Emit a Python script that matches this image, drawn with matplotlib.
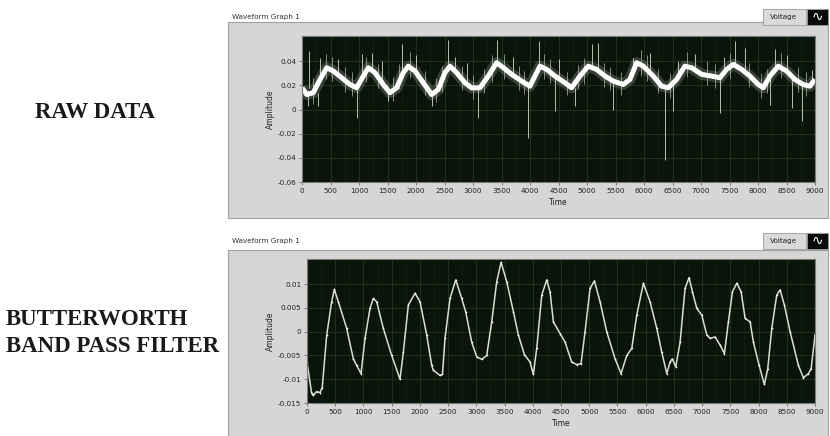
import numpy as np
from matplotlib import pyplot as plt
from matplotlib.patches import Rectangle

# raw signal: centre of the white band
raw_t = [0, 82, 198, 316, 433, 549, 696, 842, 959, 1075,
         1163, 1280, 1426, 1543, 1661, 1777, 1865, 1982, 2128, 2275,
         2391, 2508, 2596, 2713, 2859, 2976, 3122, 3268, 3415, 3532,
         3678, 3853, 3999, 4087, 4175, 4292, 4438, 4613, 4730, 4876,
         5022, 5168, 5315, 5461, 5636, 5753, 5871, 5987, 6162, 6309,
         6425, 6572, 6718, 6835, 7011, 7186, 7332, 7449, 7566, 7712,
         7858, 8004, 8092, 8209, 8355, 8501, 8647, 8793, 8910, 9000]
raw_v = [0.0181, 0.0125, 0.014, 0.025, 0.0347, 0.032, 0.0264, 0.0208, 0.0181, 0.0278,
         0.0347, 0.0306, 0.0208, 0.014, 0.0181, 0.0306, 0.036, 0.032, 0.0222, 0.0125,
         0.0167, 0.0306, 0.036, 0.0306, 0.0222, 0.018, 0.0181, 0.0278, 0.0389, 0.0347,
         0.0292, 0.0236, 0.0194, 0.0278, 0.036, 0.0333, 0.0278, 0.0222, 0.0181, 0.0278,
         0.036, 0.0333, 0.0278, 0.0236, 0.0208, 0.025, 0.0389, 0.036, 0.0278, 0.0194,
         0.0181, 0.025, 0.036, 0.0347, 0.0292, 0.0278, 0.0264, 0.0333, 0.0375, 0.0333,
         0.0278, 0.0208, 0.0181, 0.0278, 0.036, 0.032, 0.025, 0.0208, 0.0194, 0.025]

# long noise spikes in the raw signal (time, low end, high end)
spike_t = [123, 316, 640, 1046, 1222, 1400, 1760, 2000, 2555, 2683, 2888, 3426, 3700,
           4157, 4500, 5081, 5186, 5812, 6104, 6600, 6900, 7400, 7595, 7770, 8296, 8500, 8940,
           111, 286, 959, 1514, 2275, 3093, 3970, 4438, 4788, 5461, 6367, 6513, 7332,
           8209, 8589, 8765]
spike_lo = [0.018, 0.025, 0.028, 0.025, 0.033, 0.022, 0.030, 0.032, 0.034, 0.031, 0.022, 0.038, 0.030,
            0.035, 0.026, 0.035, 0.033, 0.030, 0.033, 0.025, 0.034, 0.030, 0.036, 0.033, 0.032, 0.032, 0.020,
            0.003, 0.003, -0.0069, 0.007, 0.003, -0.0069, -0.0236, -0.0014, 0.003, 0.0, -0.0417, -0.0014, -0.003,
            0.004, 0.0014, -0.0097]
spike_hi = [0.0486, 0.043, 0.042, 0.0458, 0.047, 0.040, 0.054, 0.045, 0.058, 0.044, 0.039, 0.058, 0.044,
            0.057, 0.042, 0.054, 0.0555, 0.043, 0.047, 0.040, 0.046, 0.044, 0.057, 0.051, 0.050, 0.045, 0.033,
            0.016, 0.014, 0.018, 0.015, 0.013, 0.018, 0.019, 0.027, 0.018, 0.023, 0.018, 0.023, 0.026,
            0.027, 0.025, 0.021]

# short fuzz around the band
fuzz_t = [200, 420, 520, 760, 880, 1130, 1330, 1600, 1700, 1900, 2150, 2350, 2450, 2800,
          3000, 3200, 3330, 3550, 3800, 3900, 4250, 4350, 4650, 4850, 4950, 5300, 5400, 5600,
          5950, 6050, 6250, 6450, 6750, 7100, 7250, 7500, 7850, 8050, 8150, 8400, 8700, 8850]
fuzz_lo = [0.005, 0.025, 0.024, 0.015, 0.011, 0.023, 0.018, 0.007, 0.017, 0.026, 0.012, 0.006,
           0.015, 0.016, 0.009, 0.014, 0.023, 0.025, 0.016, 0.013, 0.025, 0.022, 0.012, 0.017,
           0.021, 0.019, 0.016, 0.012, 0.028, 0.024, 0.014, 0.010, 0.027, 0.020, 0.018, 0.026,
           0.019, 0.010, 0.014, 0.026, 0.015, 0.011]
fuzz_hi = [0.026, 0.046, 0.044, 0.035, 0.031, 0.044, 0.038, 0.027, 0.038, 0.048, 0.032, 0.026,
           0.036, 0.036, 0.029, 0.034, 0.045, 0.046, 0.036, 0.032, 0.046, 0.042, 0.031, 0.037,
           0.043, 0.039, 0.035, 0.031, 0.049, 0.045, 0.034, 0.030, 0.048, 0.040, 0.038, 0.047,
           0.039, 0.030, 0.034, 0.047, 0.035, 0.031]

# band pass filtered signal
filt_t = [0, 83, 112, 170, 230, 270, 349, 437, 484, 555, 703, 821, 880, 957, 1028, 1116, 1175, 1235,
          1352, 1501, 1648, 1707, 1795, 1914, 2002, 2121, 2210, 2238, 2357, 2400, 2445, 2534, 2635,
          2741, 2811, 2918, 3007, 3096, 3184, 3273, 3361, 3438, 3539, 3657, 3745, 3851, 3952, 4010,
          4070, 4159, 4247, 4306, 4365, 4484, 4572, 4690, 4779, 4855, 4926, 5015, 5092, 5192, 5310,
          5458, 5564, 5665, 5754, 5842, 5960, 6078, 6197, 6285, 6374, 6432, 6473, 6533, 6610, 6698,
          6769, 6828, 6906, 6994, 7083, 7141, 7230, 7318, 7395, 7466, 7537, 7615, 7691, 7762, 7850,
          7909, 8010, 8103, 8163, 8234, 8322, 8381, 8458, 8559, 8706, 8795, 8884, 8932, 9000]
filt_v = [-0.0064, -0.0130, -0.0134, -0.0126, -0.0128, -0.0118, -0.0007, 0.0063, 0.0089, 0.0063,
          0.0007, -0.0057, -0.0071, -0.0088, -0.0014, 0.0049, 0.0070, 0.0063,
          0.0007, -0.0050, -0.0100, -0.0043, 0.0056, 0.0081, 0.0063, -0.0007, -0.0071, -0.0081,
          -0.0092, -0.0090, -0.0014, 0.0070, 0.0109,
          0.0070, 0.0042, -0.0022, -0.0053, -0.0058, -0.0050, 0.0021, 0.0105, 0.0146, 0.0105,
          0.0042, -0.0007, -0.0048, -0.0064, -0.0090,
          -0.0035, 0.0077, 0.0109, 0.0084, 0.0021, -0.0004, -0.0022, -0.0064, -0.0069, -0.0067,
          0.0000, 0.0091, 0.0107, 0.0063, 0.0000,
          -0.0057, -0.0088, -0.0050, -0.0035, 0.0035, 0.0102, 0.0063, 0.0007, -0.0043, -0.0088,
          -0.0064, -0.0057, -0.0074, -0.0022, 0.0091,
          0.0114, 0.0084, 0.0049, 0.0035, -0.0007, -0.0014, -0.0011, -0.0028, -0.0046, 0.0021,
          0.0084, 0.0102, 0.0084, 0.0028, 0.0021,
          -0.0022, -0.0071, -0.0111, -0.0078, 0.0007, 0.0077, 0.0088, 0.0056, 0.0000, -0.0071,
          -0.0097, -0.0088, -0.0078, -0.0007]

x_ticks = list(range(0, 9001, 500))
raw_yticks = [-0.06, -0.04, -0.02, 0, 0.02, 0.04]
raw_ylabels = ["-0.06", "-0.04", "-0.02", "0", "0.02", "0.04"]
filt_yticks = [-0.015, -0.01, -0.005, 0, 0.005, 0.01]
filt_ylabels = ["-0.015", "-0.01", "-0.005", "0", "0.005", "0.01"]

W, H = 830, 436
plt.rcParams['font.family'] = ['DejaVu Sans']
fig = plt.figure(figsize=(W / 100, H / 100), dpi=100)
fig.patch.set_facecolor("white")


def px(x0, y0, x1, y1):
    # pixel box (top-left origin) -> figure fraction rect
    return [x0 / W, 1 - y1 / H, (x1 - x0) / W, (y1 - y0) / H]


def box(x0, y0, x1, y1, face, edge, lw):
    r = px(x0, y0, x1, y1)
    fig.patches.append(Rectangle((r[0], r[1]), r[2], r[3], transform=fig.transFigure,
                                 facecolor=face, edgecolor=edge, lw=lw, zorder=-10))


def panel(top, bottom, title_y, legend_y0, legend_y1):
    box(228, top, 828, bottom, "#d6d6d6", "#a0a0a0", 0.8)
    fig.text(232 / W, 1 - title_y / H, "Waveform Graph 1", fontsize=5.2, color="#333333",
             ha="left", va="center")
    box(763, legend_y0, 806, legend_y1, "#dadada", "#9a9a9a", 0.6)
    fig.text(784 / W, 1 - (legend_y0 + legend_y1) / 2 / H, "Voltage", fontsize=5.2,
             color="#222222", ha="center", va="center")
    box(807, legend_y0, 828, legend_y1, "#0a0a0a", "#9a9a9a", 0.6)
    fig.text(817.5 / W, 1 - (legend_y0 + legend_y1) / 2 / H, "\u223f", fontsize=10,
             color="white", ha="center", va="center")


def style_axes(ax, yticks, ylabels, ylim):
    ax.set_facecolor("#0a140a")
    ax.set_xlim(0, 9000)
    ax.set_ylim(*ylim)
    ax.set_xticks(x_ticks)
    ax.set_xticklabels([str(t) for t in x_ticks])
    ax.set_yticks(yticks)
    ax.set_yticklabels(ylabels)
    ax.set_xticks(np.arange(250, 9000, 500), minor=True)
    ax.grid(True, which="major", color="#1b361b", lw=0.7)
    ax.grid(True, which="minor", color="#122412", lw=0.5)
    ax.tick_params(which="major", labelsize=5.2, length=2, width=0.5, color="#555555",
                   labelcolor="#222222", pad=2)
    ax.tick_params(which="minor", length=0)
    for s in ax.spines.values():
        s.set_color("#7a7a7a")
        s.set_linewidth(0.8)
    ax.set_xlabel("Time", fontsize=5.5, color="#222222", labelpad=3)
    ax.set_ylabel("Amplitude", fontsize=5.5, color="#222222", labelpad=2)
    ax.set_axisbelow(True)


panel(22, 218, 17, 9, 25)
panel(250, 440, 241, 233, 249)

ax1 = fig.add_axes(px(302, 36, 815, 182))
style_axes(ax1, raw_yticks, raw_ylabels, (-0.06, 0.061))
ax1.plot(raw_t, raw_v, color="#9aa496", lw=8, alpha=0.3, solid_capstyle="butt")
ax1.vlines(fuzz_t, fuzz_lo, fuzz_hi, color="#b0b8a8", lw=0.6, alpha=0.85)
ax1.vlines(spike_t, spike_lo, spike_hi, color="#c8d2c0", lw=0.7, alpha=0.9)
ax1.plot(raw_t, raw_v, color="white", lw=3.6, solid_capstyle="butt")

ax2 = fig.add_axes(px(307, 259, 815, 403))
style_axes(ax2, filt_yticks, filt_ylabels, (-0.015, 0.0153))
ax2.plot(filt_t, filt_v, color="#d8e0d2", lw=1.1, marker="o", markersize=1.2,
         markerfacecolor="white", markeredgewidth=0)

fig.text(95 / W, 1 - 112 / H, "RAW DATA", family="Liberation Serif", weight="bold",
         fontsize=16.5, color="#1a1a1a", ha="center", va="center")
fig.text(6 / W, 1 - 319 / H, "BUTTERWORTH", family="Liberation Serif", weight="bold",
         fontsize=16.5, color="#1a1a1a", ha="left", va="center")
fig.text(6 / W, 1 - 346 / H, "BAND PASS FILTER", family="Liberation Serif", weight="bold",
         fontsize=16.5, color="#1a1a1a", ha="left", va="center")

plt.savefig("out.png", dpi=100)
